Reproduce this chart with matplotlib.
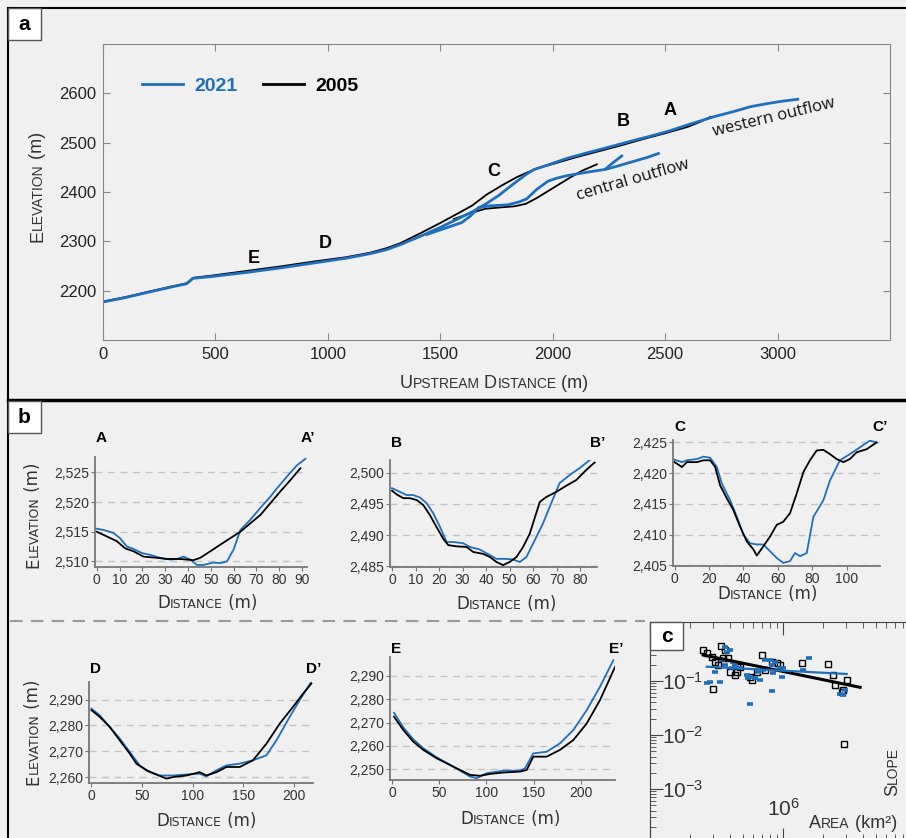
import numpy as np
import matplotlib
matplotlib.use("Agg")
import matplotlib.pyplot as plt
from matplotlib.lines import Line2D
from matplotlib.patches import Rectangle
from matplotlib.ticker import StrMethodFormatter, LogLocator, NullFormatter
from matplotlib.font_manager import FontProperties

W, H = 906, 838
BG = "#f0f0f0"
BLUE = "#1f6fbd"
GREY = "#333333"

# ---- panel a: long profiles (upstream distance m, elevation m) ----
west_2021_x = [0, 100, 194, 300, 372, 388, 400, 491, 639, 787, 936, 1084, 1188, 1260, 1321, 1410,
               1499, 1580, 1647, 1700, 1760, 1830, 1880, 1914, 1980, 2062, 2150, 2250, 2364, 2433,
               2520, 2600, 2656, 2720, 2804, 2880, 2952, 3020, 3090]
west_2021_y = [2177, 2186, 2196, 2207, 2214, 2220, 2225, 2229, 2237, 2246, 2256, 2266, 2275, 2283,
               2293, 2310, 2328, 2346, 2361, 2375, 2393, 2418, 2435, 2445, 2455, 2468, 2479, 2491,
               2505, 2513, 2524, 2536, 2544, 2553, 2563, 2573, 2579, 2584, 2588]
west_2005_x = [0, 100, 194, 300, 372, 388, 400, 491, 639, 787, 936, 1084, 1188, 1260, 1321, 1410,
               1499, 1580, 1640, 1707, 1780, 1840, 1884, 1930, 2010, 2100, 2200, 2300, 2400, 2500,
               2600, 2660, 2700]
west_2005_y = [2178, 2187, 2197, 2208, 2215, 2221, 2226, 2231, 2240, 2249, 2259, 2268, 2277, 2286,
               2296, 2316, 2337, 2357, 2372, 2395, 2415, 2430, 2439, 2448, 2458, 2470, 2482, 2494,
               2507, 2519, 2532, 2543, 2552]
central_2021_x = [1441, 1518, 1595, 1633, 1672, 1723, 1800, 1851, 1884, 1928, 1979, 2018, 2062,
                  2151, 2236, 2284, 2359, 2420, 2470]
central_2021_y = [2314, 2326, 2338, 2351, 2369, 2372, 2374, 2380, 2386, 2405, 2422, 2428, 2433,
                  2440, 2446, 2452, 2462, 2470, 2478]
spur_2021_x = [2236, 2270, 2307]
spur_2021_y = [2447, 2460, 2473]
central_2005_x = [1560, 1640, 1700, 1774, 1830, 1880, 1930, 1980, 2030, 2080, 2130, 2196]
central_2005_y = [2345, 2358, 2366, 2369, 2371, 2376, 2388, 2402, 2416, 2430, 2443, 2456]

section_labels = ["A", "B", "C", "D", "E"]
section_x = [2522, 2313, 1739, 988, 672]
section_y = [2565, 2543, 2441, 2295, 2265]

# ---- panel b: cross sections (distance m, elevation m) ----
A_2021_x = [0, 2.9, 7.3, 10.2, 13.2, 16.1, 19.8, 23.4, 27.8, 32.2, 35.1, 38, 41, 43.9, 46.8, 51.2,
            54.1, 57.1, 60, 63, 67.3, 71.7, 76.1, 79, 83.4, 87.8, 91.5]
A_2021_y = [2515.5, 2515.3, 2514.8, 2513.9, 2512.5, 2512.1, 2511.4, 2511.1, 2510.6, 2510.3, 2510.4,
            2510.8, 2510.3, 2509.4, 2509.4, 2509.8, 2509.7, 2510.0, 2512.0, 2515.3, 2517.0, 2519.0,
            2520.9, 2522.3, 2524.3, 2526.2, 2527.3]
A_2005_x = [0, 4.4, 8.8, 12.4, 16.1, 20.5, 26.3, 30.7, 36.6, 42.4, 45.4, 49.8, 54.1, 58.5, 63,
            67.3, 71.7, 76.1, 80.5, 84.9, 89.3]
A_2005_y = [2515.0, 2514.2, 2513.4, 2512.2, 2511.7, 2510.8, 2510.6, 2510.4, 2510.4, 2510.2, 2510.6,
            2511.7, 2512.8, 2513.9, 2515.0, 2516.4, 2517.8, 2519.8, 2521.8, 2523.7, 2525.7]

B_2021_x = [0, 3.4, 6.2, 9, 11.9, 14.7, 17.5, 20.4, 23.2, 26, 30.2, 33.1, 37.3, 41.6, 44.4, 48.6,
            51.4, 54.3, 57.1, 59.9, 64.2, 67, 71.2, 75.5, 79.7, 84, 89.6]
B_2021_y = [2497.5, 2496.9, 2496.4, 2496.4, 2496.0, 2495.1, 2493.5, 2491.3, 2488.9, 2488.9, 2488.7,
            2488.1, 2487.7, 2486.8, 2486.2, 2486.2, 2486.1, 2485.7, 2486.5, 2488.6, 2491.9, 2494.5,
            2498.3, 2499.6, 2500.7, 2502.0, 2503.1]
B_2005_x = [0, 2, 4.8, 7.6, 10.5, 13.3, 16.1, 18.9, 21.8, 23.9, 27.4, 31.7, 34.5, 38.7, 41.6, 44.4,
            47.2, 50, 52.9, 55.7, 58.5, 62.8, 65.6, 69.8, 74.1, 78.3, 82.5, 86.1]
B_2005_y = [2497.1, 2496.5, 2495.9, 2495.9, 2495.6, 2494.8, 2493.2, 2491.3, 2489.4, 2488.4, 2488.2,
            2488.1, 2487.3, 2487.0, 2486.5, 2485.7, 2485.2, 2485.7, 2486.5, 2488.1, 2490.2, 2495.3,
            2496.1, 2496.9, 2497.9, 2498.8, 2500.4, 2501.6]

C_2021_x = [0, 4.3, 7.2, 13, 16.8, 20.7, 24.6, 27.5, 32.3, 36.2, 40, 43.9, 47.8, 51.6, 55.5, 59.4,
            63.2, 67.1, 70, 72.9, 76.8, 80.7, 86.5, 90.3, 96.1, 101.9, 107.7, 113.5, 117.4]
C_2021_y = [2422.2, 2421.8, 2422.1, 2422.3, 2422.7, 2422.5, 2421.0, 2418.3, 2415.6, 2412.9, 2410.0,
            2408.6, 2408.4, 2408.4, 2407.3, 2406.2, 2405.4, 2405.7, 2407.0, 2406.5, 2407.0, 2412.9,
            2415.6, 2418.8, 2422.1, 2423.1, 2424.2, 2425.3, 2425.0]
C_2005_x = [0, 4.3, 7.2, 13, 16.8, 20.7, 23.6, 26.5, 30.4, 34.2, 38.1, 42, 45.8, 47.8, 51.6, 55.5,
            59.4, 63.2, 67.1, 71, 74.9, 78.7, 82.6, 86.5, 90.3, 94.2, 98.1, 101.9, 105.8, 111.6, 117.4]
C_2005_y = [2421.8, 2421.0, 2421.8, 2421.8, 2422.1, 2422.1, 2421.0, 2418.0, 2415.9, 2414.0, 2411.3,
            2408.9, 2407.6, 2406.6, 2408.1, 2409.7, 2411.6, 2412.1, 2413.5, 2416.7, 2420.2, 2422.1,
            2423.7, 2423.8, 2423.1, 2422.3, 2421.8, 2422.3, 2423.4, 2423.9, 2425.0]

D_2021_x = [0, 8.2, 18.1, 28, 37.8, 47.7, 57.6, 67.4, 80.6, 93.8, 106.9, 113.5, 123.4, 133.2, 146.4,
            159.5, 172.7, 182.6, 195.7, 205.6, 217.1]
D_2021_y = [2286.5, 2283.9, 2279.4, 2274.9, 2269.7, 2264.5, 2261.9, 2260.6, 2260.6, 2261.0, 2261.3,
            2260.3, 2262.6, 2264.5, 2265.2, 2266.5, 2268.4, 2274.2, 2283.3, 2289.8, 2296.9]
D_2005_x = [0, 8.2, 18.1, 28, 37.8, 44.4, 54.3, 64.1, 74, 80.6, 93.8, 106.9, 113.5, 123.4, 133.2,
            146.4, 159.5, 172.7, 185.9, 199, 208.9, 217.1]
D_2005_y = [2285.9, 2283.3, 2279.4, 2274.2, 2269.1, 2265.2, 2262.6, 2261.0, 2259.4, 2260.0, 2260.6,
            2261.9, 2260.6, 2261.9, 2263.9, 2263.9, 2266.5, 2272.9, 2280.7, 2287.2, 2292.3, 2296.2]

E_2021_x = [1.8, 11.7, 22.3, 32.9, 47.1, 64.8, 82.5, 89.6, 100.2, 117.9, 135.6, 140.9, 149.7, 163.9,
            178, 192.2, 206.4, 220.5, 234.7]
E_2021_y = [2274.2, 2267.9, 2262.8, 2259.0, 2255.1, 2251.1, 2246.9, 2246.2, 2248.3, 2249.4, 2249.4,
            2250.4, 2256.8, 2257.5, 2261.1, 2266.8, 2275.3, 2285.3, 2296.7]
E_2005_x = [1.8, 11.7, 22.3, 32.9, 47.1, 64.8, 82.5, 93.1, 103.7, 117.9, 135.6, 142.7, 149.7, 163.9,
            178, 192.2, 206.4, 220.5, 236.5]
E_2005_y = [2272.5, 2266.8, 2261.8, 2258.3, 2254.7, 2251.1, 2247.6, 2247.2, 2248.0, 2248.6, 2249.0,
            2249.7, 2255.4, 2255.4, 2258.3, 2262.5, 2269.6, 2279.6, 2293.8]

# ---- panel c: slope-area (km2, slope) ----
sa_2005_area = [2.51e5, 2.67e5, 2.91e5, 3.40e5, 3.66e5, 3.88e5, 3.56e5, 3.08e5, 3.26e5, 4.0e5,
                4.36e5, 4.49e5, 4.75e5, 5.65e5, 5.81e5, 6.92e5, 7.32e5, 8.22e5, 8.96e5, 9.49e5,
                1.38e6, 2.19e6, 2.39e6, 2.46e6, 2.76e6, 2.84e6, 3.01e6, 2.96e5, 2.88e6, 4.49e5, 6.34e5]
sa_2005_slope = [0.375, 0.325, 0.282, 0.445, 0.375, 0.270, 0.270, 0.228, 0.198, 0.149, 0.129, 0.149,
                 0.184, 0.120, 0.104, 0.303, 0.160, 0.228, 0.212, 0.198, 0.212, 0.204, 0.129, 0.0843,
                 0.0634, 0.068, 0.104, 0.0711, 0.0067, 0.198, 0.149]
sa_2021_area = [2.67e5, 2.85e5, 3.36e5, 3.08e5, 3.66e5, 3.77e5, 4.0e5, 3.46e5, 3.66e5, 4.12e5,
                4.36e5, 4.75e5, 5.34e5, 5.49e5, 5.65e5, 6.16e5, 6.53e5, 6.72e5, 7.11e5, 7.32e5,
                7.98e5, 8.22e5, 8.47e5, 8.72e5, 9.49e5, 9.77e5, 1.0e6, 1.42e6, 1.56e6, 8.22e5,
                5.65e5, 2.68e6, 2.84e6, 2.92e6, 4.24e5]
sa_2021_slope = [0.0905, 0.0972, 0.0972, 0.149, 0.432, 0.349, 0.375, 0.245, 0.198, 0.172, 0.198,
                 0.172, 0.129, 0.112, 0.120, 0.112, 0.149, 0.104, 0.160, 0.245, 0.245, 0.198, 0.139,
                 0.228, 0.172, 0.120, 0.172, 0.160, 0.265, 0.0653, 0.0375, 0.0566, 0.0551, 0.068, 0.228]
fit_2005_area = [2.51e5, 3.8e6]
fit_2005_slope = [0.303, 0.0764]
fit_2021_area = [2.67e5, 3.01e6]
fit_2021_slope = [0.184, 0.135]

plt.rcParams["font.family"] = ["Liberation Sans", "DejaVu Sans"]
plt.rcParams["mathtext.fontset"] = "custom"
plt.rcParams["mathtext.rm"] = "Liberation Sans"
plt.rcParams["mathtext.it"] = "Liberation Sans:italic"

fig = plt.figure(figsize=(W / 100, H / 100), dpi=100, facecolor=BG)


def axes_px(l, t, r, b):
    return fig.add_axes([l / W, 1 - b / H, (r - l) / W, (b - t) / H], facecolor=BG)


def caps_text(x, y, parts, family, rot=0, color=GREY):
    # small caps: list of (text, size) pieces laid end to end, centred on x (or y)
    rend = fig.canvas.get_renderer()
    widths = []
    for s, size in parts:
        fp = FontProperties(family=family, size=size)
        w1 = rend.get_text_width_height_descent("|" + s + "|", fp, ismath=False)[0]
        w0 = rend.get_text_width_height_descent("||", fp, ismath=False)[0]
        widths.append(w1 - w0)
    pos = -sum(widths) / 2
    for (s, size), w in zip(parts, widths):
        if rot == 0:
            xx, yy = x + pos, y
        else:
            xx, yy = x, y - pos
        fig.text(xx / W, 1 - yy / H, s, family=family, size=size, color=color,
                 rotation=rot, rotation_mode="anchor", ha="left", va="baseline")
        pos += w


def fig_line(x0, y0, x1, y1, **kw):
    fig.add_artist(Line2D([x0 / W, x1 / W], [1 - y0 / H, 1 - y1 / H],
                          transform=fig.transFigure, **kw))


def label_box(l, t, r, b, s):
    fig.add_artist(Rectangle((l / W, 1 - b / H), (r - l) / W, (b - t) / H,
                             transform=fig.transFigure, facecolor="white",
                             edgecolor="#555555", lw=1, zorder=5))
    fig.text((l + r) / 2 / W, 1 - (t + b) / 2 / H, s, ha="center", va="center",
             size=15, weight="bold", zorder=6)


# ---------------- panel a ----------------
ax = axes_px(103, 44, 890, 340)
ax.plot(west_2005_x, west_2005_y, color="black", lw=1.3)
ax.plot(central_2005_x, central_2005_y, color="black", lw=1.3)
l21, = ax.plot(west_2021_x, west_2021_y, color=BLUE, lw=2.0)
ax.plot(central_2021_x, central_2021_y, color=BLUE, lw=2.0)
ax.plot(spur_2021_x, spur_2021_y, color=BLUE, lw=2.0)
l05 = Line2D([], [], color="black", lw=2.0)
ax.set_xlim(0, 3500)
ax.set_ylim(2100, 2700)
ax.set_xticks(range(0, 3001, 500))
ax.set_yticks(range(2200, 2601, 100))
ax.tick_params(direction="in", top=True, right=True, length=5, color="#888888",
               labelsize=12, labelcolor="#222222", pad=5)
for sp in ax.spines.values():
    sp.set_color("#888888")
for s, x, y in zip(section_labels, section_x, section_y):
    ax.text(x, y, s, ha="center", va="center", size=13, weight="bold")
ax.text(2985, 2550, "western outflow", family="Open Sans", size=12, rotation=13.5,
        rotation_mode="anchor", ha="center", va="center", color="#111111")
ax.text(2358, 2425, "central outflow", family="Open Sans", size=12, rotation=16,
        rotation_mode="anchor", ha="center", va="center", color="#111111")
ax.legend([l21, l05], ["2021", "2005"], ncol=2, frameon=False, loc="center left",
          bbox_to_anchor=((142 - 103) / 787, (340 - 86) / 296), borderpad=0, borderaxespad=0,
          handlelength=2.1, handletextpad=0.6, columnspacing=1.3,
          prop={"weight": "bold", "size": 14}, labelcolor=[BLUE, "black"])

caps_text(494, 388, [("U", 13), ("PSTREAM", 10), (" D", 13), ("ISTANCE", 10), (" (m)", 13)],
          "Liberation Sans")
caps_text(42, 187, [("E", 13), ("LEVATION", 10), (" (m)", 13)], "Liberation Sans", rot=90)

# ---------------- panel b ----------------
profiles = [
    (A_2021_x, A_2021_y, A_2005_x, A_2005_y, (95, 457, 307, 567), (-0.8, 92.2), (2509.05, 2527.6),
     range(0, 91, 10), range(2510, 2526, 5), "A", 19, (207, 608)),
    (B_2021_x, B_2021_y, B_2005_x, B_2005_y, (390, 460, 597, 567), (-0.85, 87.1), (2484.9, 2502.0),
     range(0, 81, 10), range(2485, 2501, 5), "B", 17, (506, 609)),
    (C_2021_x, C_2021_y, C_2005_x, C_2005_y, (673, 440, 880, 566), (-0.9, 119.4), (2404.9, 2425.4),
     range(0, 101, 20), range(2405, 2426, 5), "C", 13, (767, 599)),
    (D_2021_x, D_2021_y, D_2005_x, D_2005_y, (89, 682, 313, 783), (-2.4, 218.7), (2257.7, 2296.8),
     range(0, 201, 50), range(2260, 2291, 10), "D", 13, (206, 826)),
    (E_2021_x, E_2021_y, E_2005_x, E_2005_y, (390, 657, 615, 780), (-2.5, 236.5), (2245.4, 2298.1),
     range(0, 201, 50), range(2250, 2291, 10), "E", 8, (510, 824)),
]
for x21, y21, x05, y05, box, xl, yl, xt, yt, name, off, lab in profiles:
    bx = axes_px(*box)
    for y in yt:
        bx.axhline(y, color="#c4c4c4", lw=1, ls=(0, (5, 4)), zorder=0)
    bx.plot(x21, y21, color=BLUE, lw=1.3)
    bx.plot(x05, y05, color="black", lw=1.3)
    bx.set_xlim(*xl)
    bx.set_ylim(*yl)
    bx.set_xticks(list(xt))
    bx.set_yticks(list(yt))
    bx.yaxis.set_major_formatter(StrMethodFormatter("{x:,.0f}"))
    bx.spines[["top", "right"]].set_visible(False)
    for sp in ("left", "bottom"):
        bx.spines[sp].set_color("#777777")
        bx.spines[sp].set_linewidth(1.3)
    bx.tick_params(length=3, color="#777777", labelsize=10, labelcolor=GREY, pad=1)
    bx.annotate(name, xy=(0, 1), xycoords="axes fraction", xytext=(1, off),
                textcoords="offset pixels", ha="left", va="center", size=11, weight="bold")
    bx.annotate(name + "\u2019", xy=(1, 1), xycoords="axes fraction", xytext=(8, off),
                textcoords="offset pixels", ha="right", va="center", size=11, weight="bold")
    caps_text(lab[0], lab[1], [("D", 12), ("ISTANCE", 9), (" (m)", 12)], "DejaVu Sans")

caps_text(38, 515, [("E", 12), ("LEVATION", 9), (" (m)", 12)], "DejaVu Sans", rot=90)
caps_text(38, 732, [("E", 12), ("LEVATION", 9), (" (m)", 12)], "DejaVu Sans", rot=90)

# ---------------- panel c ----------------
cx = axes_px(650, 622, 916, 840)
cx.set_xscale("log")
cx.set_yscale("log")
cx.plot(fit_2005_area, fit_2005_slope, color="black", lw=2.2, zorder=3)
cx.plot(fit_2021_area, fit_2021_slope, color=BLUE, lw=1.6, zorder=3)
cx.plot(sa_2005_area, sa_2005_slope, ls="none", marker="s", ms=4, mfc="none", mec="black",
        mew=1, zorder=2)
cx.plot(sa_2021_area, sa_2021_slope, ls="none", marker="_", ms=5, mew=2.6, color=BLUE, zorder=2)
cx.set_xlim(1e5, 1e7)
cx.set_ylim(10 ** -3.944, 10 ** 0.0926)
cx.set_xticks([1e5, 1e6, 1e7], ["", r"$10^6$", ""])
cx.set_yticks([1e-3, 1e-2, 1e-1, 1e0], [r"$10^{-3}$", r"$10^{-2}$", r"$10^{-1}$", ""])
cx.xaxis.set_minor_locator(LogLocator(base=10, subs=np.arange(2, 10)))
cx.yaxis.set_minor_locator(LogLocator(base=10, subs=np.arange(2, 10)))
cx.xaxis.set_minor_formatter(NullFormatter())
cx.yaxis.set_minor_formatter(NullFormatter())
cx.tick_params(which="both", direction="in", top=True, bottom=True, left=True, right=False,
               color="#444444")
cx.tick_params(which="major", length=9)
cx.tick_params(which="minor", length=4)
cx.tick_params(axis="y", labelsize=15, pad=-9, labelcolor=GREY)
cx.tick_params(axis="x", labelsize=15, pad=-30, labelcolor=GREY)
plt.setp(cx.get_yticklabels(), ha="left")
for sp in cx.spines.values():
    sp.set_color("#444444")
caps_text(853, 828, [("A", 13), ("REA", 10), (" (km\u00b2)", 13)], "Liberation Sans")
caps_text(897, 771, [("S", 13), ("LOPE", 10)], "Liberation Sans", rot=90)

# ---------------- frames ----------------
fig_line(8, 8, W, 8, color="black", lw=1.5)
fig_line(8, 8, 8, H, color="black", lw=1.5)
fig_line(8, 400.5, W, 400.5, color="black", lw=2.5)
fig_line(10, 621, 645, 621, color="#9a9a9a", lw=1.5, ls=(0, (6, 4)))
label_box(8, 8, 41, 40, "a")
label_box(8, 401, 41, 433, "b")
label_box(650, 622, 683, 650, "c")

fig.savefig("out.png", dpi=100, facecolor=BG)
